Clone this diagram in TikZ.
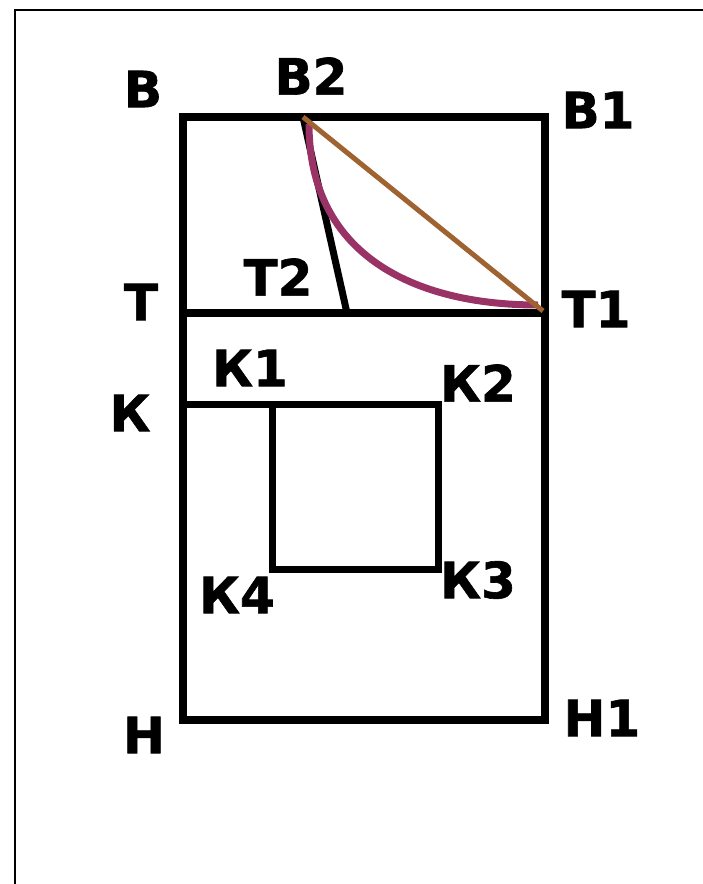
\documentclass[tikz,border=0pt]{standalone}
\usepackage{fontspec}
\setmainfont{DejaVu Sans}[BoldFeatures={FakeBold=1.2}]
\usepackage{tikz}
\definecolor{lineBrown}{RGB}{158,99,48}
\definecolor{arcPurple}{RGB}{153,51,102}

\begin{document}
\begin{tikzpicture}[x=1pt,y=-1pt,
lbl/.style={font=\fontsize{50}{58}\bfseries\selectfont,inner sep=0pt},
wall/.style={line width=8pt,draw=black},
chord/.style={line width=5pt,draw=lineBrown},
arc/.style={line width=7pt,draw=arcPurple}]

\useasboundingbox (0,0) rectangle (703,884);
\draw[line width=2pt] (15,884)--(15,10)--(703,10);

% corner points
\coordinate (B) at (183,117);
\coordinate (B1) at (545,117);
\coordinate (B2) at (303,117);
\coordinate (T) at (183,313);
\coordinate (T1) at (545,313);
\coordinate (T2) at (347,313);
\coordinate (K) at (183,404);
\coordinate (K1) at (272,404);
\coordinate (K2) at (438,404);
\coordinate (K3) at (438,569);
\coordinate (K4) at (272,569);
\coordinate (H) at (183,720);
\coordinate (H1) at (545,720);

\node[lbl] (lB) at (143,89) {В};
\node[lbl] (lB2) at (311,76) {В2};
\node[lbl] (lB1) at (598,110) {В1};
\node[lbl] (lT) at (141,302) {Т};
\node[lbl] (lT2) at (278,277) {Т2};
\node[lbl] (lT1) at (596,309) {Т1};
\node[lbl] (lK1) at (250,368) {К1};
\node[lbl] (lK) at (130,413) {К};
\node[lbl] (lK2) at (478,383) {К2};
\node[lbl] (lK3) at (478,580) {К3};
\node[lbl] (lK4) at (237,595) {К4};
\node[lbl] (lH) at (144,735) {Н};
\node[lbl] (lH1) at (602,718) {Н1};

\draw[wall] (B)--(B1)--(H1)--(H)--cycle;
\draw[wall] (T)--(T1);
\draw[wall,line width=7pt] (B2)--(T2);
\draw[wall,line width=7pt] (K)--(K1);
\draw[wall,line width=7pt] (K1)--(K2)--(K3)--(K4)--cycle;
\draw[arc] (309,124) .. controls (309,254) and (413,305) .. (538,305);
\draw[chord] (B2)--(543,311);
\end{tikzpicture}
\end{document}
